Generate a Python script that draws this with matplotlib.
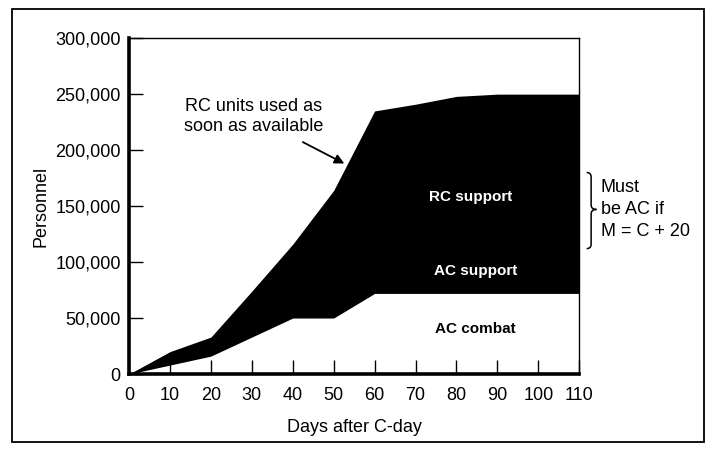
import matplotlib
matplotlib.use("Agg")
import matplotlib.pyplot as plt
from matplotlib.patches import Rectangle, PathPatch
from matplotlib.path import Path
from matplotlib.ticker import StrMethodFormatter

# values (personnel by day after C-day)
days = [0, 10, 20, 30, 40, 50, 60, 70, 80, 90, 100, 110]
ac_combat = [0, 8000, 16000, 33000, 50000, 50000, 72000, 72000, 72000, 72000, 72000, 72000]
total_force = [0, 20000, 33000, 74000, 116000, 164000, 235000, 241000, 248000, 250000, 250000, 250000]

x_ticks = list(range(0, 111, 10))
y_ticks = [0, 50000, 100000, 150000, 200000, 250000, 300000]

plt.rcParams['font.family'] = ['Liberation Sans', 'DejaVu Sans']

fig = plt.figure(figsize=(7.09, 4.49), dpi=100)
ax = fig.add_axes([0.182, 0.167, 0.635, 0.748])

# black band = AC support + RC support, white below = AC combat
ax.fill_between(days, ac_combat, total_force, color='black', linewidth=0)

ax.set_xlim(0, 110)
ax.set_ylim(0, 300000)
ax.set_xticks(x_ticks)
ax.set_yticks(y_ticks)
ax.yaxis.set_major_formatter(StrMethodFormatter('{x:,.0f}'))
ax.tick_params(direction='in', length=10, width=1, labelsize=13, pad=6)
ax.tick_params(axis='x', pad=9)

for side in ['left', 'bottom']:
    ax.spines[side].set_linewidth(2.6)
for side in ['top', 'right']:
    ax.spines[side].set_linewidth(1.0)

ax.set_xlabel('Days after C-day', fontsize=13, labelpad=11)
ax.set_ylabel('Personnel', fontsize=13, labelpad=4)

ax.annotate('RC units used as\nsoon as available', xy=(52.6, 188000), xytext=(30.4, 230000),
            ha='center', va='center', fontsize=13, linespacing=1.3,
            arrowprops=dict(arrowstyle='-|>', color='black', lw=1.3, mutation_scale=14,
                            shrinkA=6, shrinkB=0))

ax.text(83.4, 158000, 'RC support', color='white', fontsize=11, fontweight='bold',
        ha='center', va='center')
ax.text(84.6, 92000, 'AC support', color='white', fontsize=11, fontweight='bold',
        ha='center', va='center')
ax.text(84.6, 40000, 'AC combat', color='black', fontsize=11, fontweight='bold',
        ha='center', va='center')

# curly brace on the right
brace = Path(
    [(111.8, 180000), (112.9, 180000), (112.9, 176000),
     (112.9, 151000), (112.9, 147000), (114.2, 147000),
     (112.9, 147000), (112.9, 143000),
     (112.9, 116000), (112.9, 112000), (111.8, 112000)],
    [Path.MOVETO, Path.CURVE3, Path.CURVE3,
     Path.LINETO, Path.CURVE3, Path.CURVE3,
     Path.CURVE3, Path.CURVE3,
     Path.LINETO, Path.CURVE3, Path.CURVE3])
ax.add_patch(PathPatch(brace, facecolor='none', edgecolor='black', lw=1.1, clip_on=False))
ax.text(115.2, 147000, 'Must\nbe AC if\nM = C + 20', fontsize=13, ha='left', va='center',
        linespacing=1.38, clip_on=False)

# outer frame round the whole figure
fig.patches.append(Rectangle((12 / 709, 7 / 449), 692 / 709, 433 / 449,
                             transform=fig.transFigure, fill=False, edgecolor='black', lw=1.3))

fig.savefig('out.png', dpi=100)
